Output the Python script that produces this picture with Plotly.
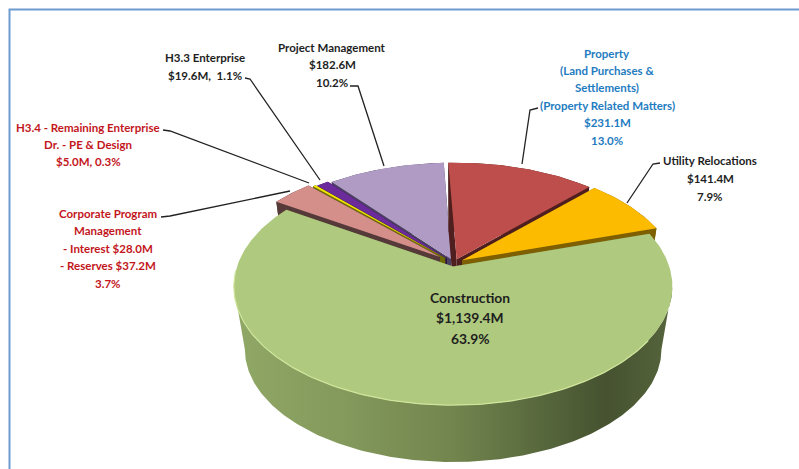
import numpy as np
import plotly.graph_objects as go

names = ["Property", "Utility Relocations", "Construction", "Corporate Program Management",
         "H3.4 - Remaining Enterprise", "H3.3 Enterprise", "Project Management"]
values = [231.1, 141.4, 1139.4, 65.2, 5.0, 19.6, 182.6]
top_colors = ["#BE4E4B", "#FDBB00", "#AFC97F", "#D58F8B", "#F2E400", "#6B2B9B", "#B09BC4"]
wall_colors = ["#4E1F1E", "#7F6000", "#6B7E4A", "#563A39", "#6F6A00", "#2E1348", "#4A4060"]
explode = [0.035, 0.045, 0.03, 0.085, 0.06, 0.05, 0.035]
draw_order = [6, 5, 4, 3, 0, 1, 2]

CX, CY = 454, 263
A, B, K = 215, 114, 0.169
SCALE, DEPTH = 0.95, 64
START = -2.5


def project(u, v, level=0):
    d = 1 + K * v
    x = CX + A * u / d
    y = CY - B * v / d
    if level:
        x = CX + (x - CX) * SCALE
        y = CY + (y - CY) * SCALE + DEPTH
    return x, y


fig = go.Figure()
total = sum(values)
edges = np.concatenate([[0], np.cumsum(values)]) / total * 2 * np.pi + np.radians(START)


def poly(x, y, color=None, gradient=None):
    kw = {"fillgradient": gradient} if gradient else {"fillcolor": color}
    fig.add_trace(go.Scatter(x=list(x) + [x[0]], y=list(y) + [y[0]], mode="lines", fill="toself",
                             line=dict(width=0), hoverinfo="skip", showlegend=False, **kw))


side_gradient = dict(type="horizontal", colorscale=[[0, "#90A866"], [0.25, "#84995C"], [0.5, "#72854E"],
                                                   [0.72, "#55653B"], [0.85, "#465230"], [1, "#56653C"]])
edge_angle = np.arccos(-K)

for i in draw_order:
    t0, t1 = edges[i], edges[i + 1]
    mid = (t0 + t1) / 2
    ou, ov = explode[i] * np.sin(mid), explode[i] * np.cos(mid)
    t = np.linspace(t0, t1, max(4, int((t1 - t0) * 60)))
    us, vs = ou + np.sin(t), ov + np.cos(t)
    tx, ty = project(us, vs)
    bx, by = project(us, vs, 1)
    ax, ay = project(ou, ov)
    lax, lay = project(ou, ov, 1)
    # cut faces
    poly([ax, tx[0], bx[0], lax], [ay, ty[0], by[0], lay], wall_colors[i])
    poly([ax, tx[-1], bx[-1], lax], [ay, ty[-1], by[-1], lay], wall_colors[i])
    # outer wall: only the part between the two silhouette points of the rim
    if i == 2:
        tw = np.linspace(edge_angle, 2 * np.pi - edge_angle, 200)
        wu, wv = ou + np.sin(tw), ov + np.cos(tw)
        x1, y1 = project(wu, wv)
        x2, y2 = project(wu, wv, 1)
        poly(np.concatenate([x1, x2[::-1]]), np.concatenate([y1, y2[::-1]]), gradient=side_gradient)
    else:
        poly(np.concatenate([tx, bx[::-1]]), np.concatenate([ty, by[::-1]]), wall_colors[i])
    # top face
    poly(np.concatenate([[ax], tx]), np.concatenate([[ay], ty]), top_colors[i])
    if i == 2:
        keep = (t > np.radians(125)) & (t < np.radians(268))
        fig.add_trace(go.Scatter(x=tx[keep], y=ty[keep], mode="lines", hoverinfo="skip", showlegend=False,
                                 line=dict(color="#CFE59B", width=1.2)))

RED, BLUE, BLACK = "#C3161C", "#1F7CC1", "#1E1E1E"
labels = [
    (["H3.3 Enterprise", "$19.6M,  1.1%"], 205, 57, 18, BLACK, 11.5),
    (["Project Management", "$182.6M", "10.2%"], 332, 47, 17.5, BLACK, 11.5),
    (["H3.4 - Remaining Enterprise", "Dr. - PE & Design", "$5.0M, 0.3%"], 88, 127, 17.3, RED, 11.5),
    (["Corporate Program", "Management", "- Interest $28.0M", "- Reserves $37.2M", "3.7%"], 108, 213, 17.5, RED, 11.5),
    (["Property", "(Land Purchases &", "Settlements)", "(Property Related Matters)", "$231.1M", "13.0%"],
     607, 53, 17.4, BLUE, 11.5),
    (["Utility Relocations", "$141.4M", "7.9%"], 710, 160, 18, BLACK, 11.5),
    (["Construction", "$1,139.4M", "63.9%"], 470, 297, 20.5, BLACK, 13.8),
]
annotations = []
for lines, xc, y0, dy, col, size in labels:
    for n, line in enumerate(lines):
        annotations.append(dict(x=xc, y=y0 + n * dy, text=line, showarrow=False, xanchor="center", yanchor="middle",
                                xref="x", yref="y", font=dict(family="Lato", size=size, color=col, weight=700)))

leaders = ["M245,78 L250,79 L320,180", "M350,86 L358,86 L384,166", "M163,130 L170,131 L309,183",
           "M161,217 L170,216 L290,191", "M538,108 L530,110 L522,164", "M660,163 L653,164 L627,203"]
shapes = [dict(type="path", path=p, line=dict(color="#222222", width=1.3), xref="x", yref="y") for p in leaders]
shapes.append(dict(type="path", path="M9.5,469 L9.5,9.5 L799,9.5", xref="x", yref="y",
                   line=dict(color="#6E9BD0", width=2)))

fig.update_layout(
    width=799, height=469, margin=dict(l=0, r=0, t=0, b=0), paper_bgcolor="white", plot_bgcolor="white",
    xaxis=dict(range=[0, 799], visible=False, fixedrange=True),
    yaxis=dict(range=[469, 0], visible=False, fixedrange=True),
    annotations=annotations, shapes=shapes, showlegend=False,
)
fig.write_html("out.html", config=dict(displayModeBar=False),
               post_script="document.body.style.margin='0';document.body.style.overflow='hidden';")
